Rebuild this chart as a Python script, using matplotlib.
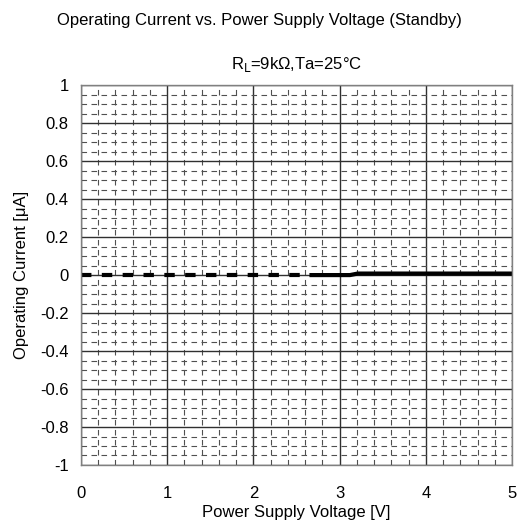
"""Operating current vs. power supply voltage (standby) chart."""

import matplotlib
matplotlib.use("Agg")
import matplotlib.pyplot as plt
from matplotlib.ticker import MultipleLocator

plt.rcParams["font.family"] = ["Liberation Sans", "DejaVu Sans"]

TITLE = "Operating Current vs. Power Supply Voltage (Standby)"
SUBTITLE = r"R$_{\rm L}$=9kΩ,Ta=25°C"

# measured curve, split the same way as the reference (dashed low part, solid upper part)
volt_low = [0.0, 0.5, 1.0, 1.5, 2.0, 2.5, 2.65]
curr_low = [0.0, 0.0, 0.0, 0.0, 0.0, 0.0, 0.0]
volt_high = [2.65, 3.0, 3.12, 3.21, 3.5, 4.0, 4.5, 5.0]
curr_high = [0.0, 0.0, 0.0, 0.008, 0.008, 0.008, 0.008, 0.008]

x_ticks = [0, 1, 2, 3, 4, 5]
y_ticks = [-1, -0.8, -0.6, -0.4, -0.2, 0, 0.2, 0.4, 0.6, 0.8, 1]
y_tick_labels = ["-1", "-0.8", "-0.6", "-0.4", "-0.2", "0", "0.2", "0.4", "0.6", "0.8", "1"]


def main() -> None:
    fig = plt.figure(figsize=(5.18, 5.29), dpi=100)
    ax = fig.add_axes([0.1564, 0.121, 0.832, 0.718])

    ax.set_xlim(0, 5)
    ax.set_ylim(-1, 1)
    ax.set_xticks(x_ticks)
    ax.set_xticklabels([str(t) for t in x_ticks])
    ax.set_yticks(y_ticks)
    ax.set_yticklabels(y_tick_labels)
    ax.xaxis.set_minor_locator(MultipleLocator(0.2))
    ax.yaxis.set_minor_locator(MultipleLocator(0.05))
    ax.tick_params(which="both", length=0, labelsize=12)
    ax.tick_params(axis="y", pad=9)
    ax.tick_params(axis="x", pad=15)

    ax.grid(which="major", color="#303030", linewidth=1.0)
    ax.grid(which="minor", color="#505050", linewidth=0.8, linestyle=(0, (5, 4)))
    ax.set_axisbelow(True)
    for spine in ax.spines.values():
        spine.set_color("#808080")
        spine.set_linewidth(1.0)

    ax.plot(volt_low, curr_low, color="black", linewidth=3.0, linestyle=(0, (2.5, 2.5)))
    ax.plot(volt_high, curr_high, color="black", linewidth=3.0, solid_capstyle="butt")

    ax.set_xlabel("Power Supply Voltage [V]", fontsize=12, labelpad=3)
    ax.set_ylabel("Operating Current [μA]", fontsize=12, labelpad=8)

    fig.text(0.5, 0.961, TITLE, ha="center", va="center", fontsize=12)
    ax.set_title(SUBTITLE, fontsize=12, pad=12)

    fig.savefig("out.png", dpi=100)
    plt.close(fig)


if __name__ == "__main__":
    main()
